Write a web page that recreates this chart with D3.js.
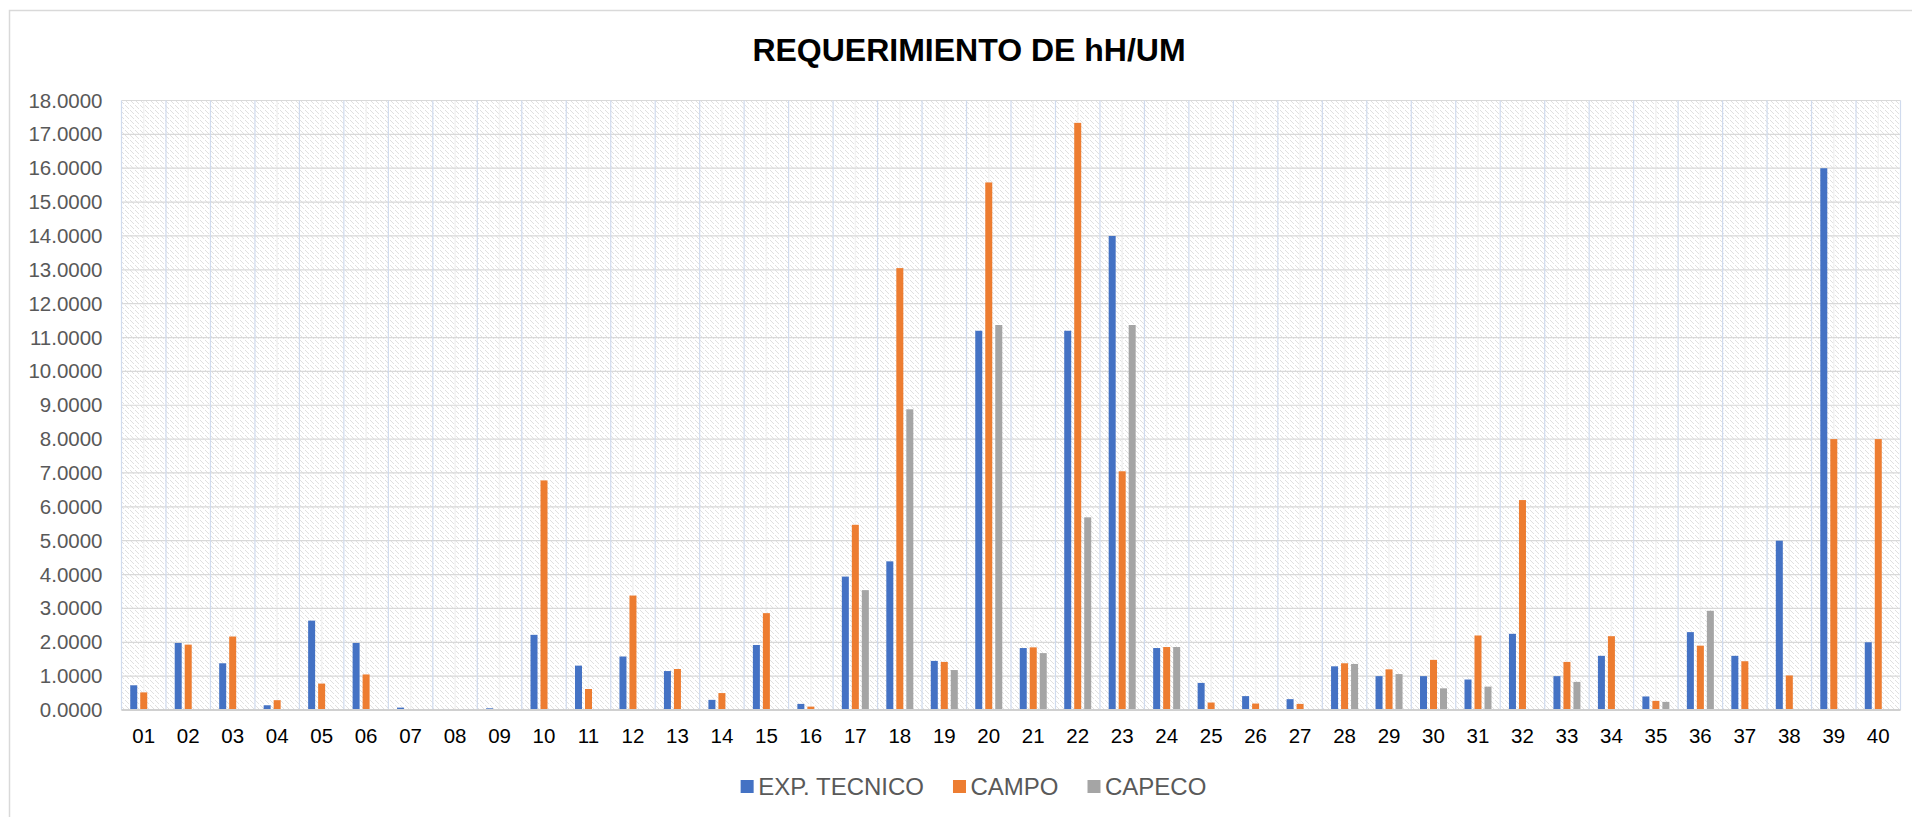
<!DOCTYPE html>
<html>
<head>
<meta charset="utf-8">
<script src="https://cdn.jsdelivr.net/npm/d3@7"></script>
<style>
  body { margin: 0; background: #fff; }
  text { font-family: "Liberation Sans", Arial, sans-serif; }
</style>
</head>
<body>
<script>
// Chart data
var categories = ["01","02","03","04","05","06","07","08","09","10",
                  "11","12","13","14","15","16","17","18","19","20",
                  "21","22","23","24","25","26","27","28","29","30",
                  "31","32","33","34","35","36","37","38","39","40"];

var seriesNames = ["EXP. TECNICO", "CAMPO", "CAPECO"];

var expTecnico = [0.73, 1.98, 1.38, 0.14, 2.64, 1.98, 0.07, 0.03, 0.05, 2.22,
                  1.31, 1.58, 1.15, 0.30, 1.92, 0.18, 3.94, 4.39, 1.45, 11.2,
                  1.83, 11.2, 14.0, 1.83, 0.80, 0.41, 0.32, 1.29, 1.0, 1.0,
                  0.90, 2.25, 1.0, 1.60, 0.40, 2.30, 1.60, 5.0, 16.0, 2.0];

var campo = [0.52, 1.93, 2.17, 0.29, 0.78, 1.05, 0.02, 0.03, 0.01, 6.78,
             0.62, 3.38, 1.21, 0.50, 2.86, 0.10, 5.47, 13.05, 1.42, 15.58,
             1.85, 17.34, 7.05, 1.86, 0.22, 0.19, 0.18, 1.38, 1.20, 1.48,
             2.20, 6.20, 1.42, 2.18, 0.27, 1.90, 1.44, 1.02, 8.0, 8.0];

var capeco = [0, 0, 0, 0, 0, 0, 0, 0, 0, 0,
              0, 0, 0, 0, 0, 0, 3.54, 8.88, 1.18, 11.37,
              1.68, 5.69, 11.37, 1.86, 0, 0, 0, 1.36, 1.06, 0.64,
              0.69, 0, 0.83, 0, 0.24, 2.93, 0, 0, 0, 0];

var yTicks = [0,1,2,3,4,5,6,7,8,9,10,11,12,13,14,15,16,17,18];
var colors = ["#4472C4", "#ED7D31", "#A5A5A5"];

var width = 1912, height = 817;
var plot = { left: 121.5, right: 1900.5, top: 100.5, bottom: 710 };

var svg = d3.select("body").append("svg")
    .attr("width", width)
    .attr("height", height);

// hatch pattern for the plot background
var defs = svg.append("defs");
var pat = defs.append("pattern")
    .attr("id", "hatch")
    .attr("patternUnits", "userSpaceOnUse")
    .attr("width", 10)
    .attr("height", 10);
pat.append("rect").attr("width", 10).attr("height", 10).attr("fill", "#fff");
pat.append("path")
    .attr("d", "M0,0 L4,4 M5,5 L9,9 M5,0 L9,4 M0,5 L4,9")
    .attr("stroke", "#dcdcdc")
    .attr("stroke-width", 0.9);

// chart area border
svg.append("rect")
    .attr("x", 9.5).attr("y", 10.5)
    .attr("width", 1930).attr("height", 830)
    .attr("fill", "#fff")
    .attr("stroke", "#d9d9d9")
    .attr("stroke-width", 1.5);

// title
svg.append("text")
    .attr("x", 969).attr("y", 61)
    .attr("text-anchor", "middle")
    .style("font-size", "32px")
    .style("font-weight", "bold")
    .style("fill", "#000")
    .text("REQUERIMIENTO DE hH/UM");

// scales
var x0 = d3.scaleBand()
    .domain(categories)
    .range([plot.left, plot.right])
    .padding(0);

var groupWidth = 27;
var x1 = d3.scaleBand()
    .domain(seriesNames)
    .range([0, groupWidth])
    .paddingInner(0.3);

var y = d3.scaleLinear()
    .domain([0, 18])
    .range([plot.bottom, plot.top]);

// plot background
svg.append("rect")
    .attr("x", plot.left).attr("y", plot.top)
    .attr("width", plot.right - plot.left)
    .attr("height", plot.bottom - plot.top)
    .attr("fill", "url(#hatch)");

var grid = svg.append("g");

// light lines through the middle of every category
grid.selectAll("line.mid")
    .data(categories)
    .enter().append("line")
    .attr("class", "mid")
    .attr("x1", function (d) { return x0(d) + x0.bandwidth() / 2; })
    .attr("x2", function (d) { return x0(d) + x0.bandwidth() / 2; })
    .attr("y1", plot.top).attr("y2", plot.bottom)
    .attr("stroke", "#f2f2f2")
    .attr("stroke-width", 1.5);

// horizontal gridlines
grid.selectAll("line.h")
    .data(yTicks)
    .enter().append("line")
    .attr("class", "h")
    .attr("x1", plot.left).attr("x2", plot.right)
    .attr("y1", function (d) { return y(d); })
    .attr("y2", function (d) { return y(d); })
    .attr("stroke", "#d9d9d9")
    .attr("stroke-width", 1.2);

// category boundary lines (blue tint)
var edges = categories.map(function (d) { return x0(d); }).concat([plot.right]);
grid.selectAll("line.v")
    .data(edges)
    .enter().append("line")
    .attr("class", "v")
    .attr("x1", function (d) { return d; })
    .attr("x2", function (d) { return d; })
    .attr("y1", plot.top).attr("y2", plot.bottom)
    .attr("stroke", "#d0dbee")
    .attr("stroke-width", 1.2);

// bars
var seriesData = [expTecnico, campo, capeco];
var groups = svg.append("g")
    .selectAll("g")
    .data(categories)
    .enter().append("g")
    .attr("transform", function (d) {
        return "translate(" + (x0(d) + (x0.bandwidth() - groupWidth) / 2) + ",0)";
    });

groups.selectAll("rect")
    .data(function (d, i) {
        return seriesNames.map(function (s, j) {
            return { series: s, idx: j, value: seriesData[j][i] };
        });
    })
    .enter().append("rect")
    .attr("x", function (d) { return x1(d.series); })
    .attr("width", x1.bandwidth())
    .attr("y", function (d) { return y(d.value); })
    .attr("height", function (d) { return plot.bottom - y(d.value); })
    .attr("fill", function (d) { return colors[d.idx]; });

// baseline
svg.append("line")
    .attr("x1", plot.left).attr("x2", plot.right)
    .attr("y1", plot.bottom).attr("y2", plot.bottom)
    .attr("stroke", "#d0d0d0")
    .attr("stroke-width", 2);

// y axis labels
var yAxis = d3.axisLeft(y)
    .tickValues(yTicks)
    .tickFormat(d3.format(".4f"))
    .tickSize(0)
    .tickPadding(19);
var gy = svg.append("g")
    .attr("transform", "translate(" + plot.left + ",0)")
    .call(yAxis);
gy.select(".domain").remove();
gy.selectAll("text")
    .style("font-size", "20.5px")
    .style("font-family", "'Liberation Sans', Arial, sans-serif")
    .attr("fill", "#595959");

// x axis labels
var xAxis = d3.axisBottom(x0).tickSize(0).tickPadding(18);
var gx = svg.append("g")
    .attr("transform", "translate(0," + plot.bottom + ")")
    .call(xAxis);
gx.select(".domain").remove();
gx.selectAll("text")
    .style("font-size", "20.5px")
    .style("font-family", "'Liberation Sans', Arial, sans-serif")
    .attr("fill", "#000");

// legend
var legend = svg.append("g");
var items = legend.selectAll("g")
    .data(seriesNames)
    .enter().append("g");
items.append("rect")
    .attr("width", 13).attr("height", 13)
    .attr("y", 780)
    .attr("fill", function (d, i) { return colors[i]; });
items.append("text")
    .attr("x", 17.5)
    .attr("y", 794.5)
    .style("font-size", "24px")
    .style("fill", "#595959")
    .text(function (d) { return d; });

var pos = 0, offsets = [];
items.each(function () {
    offsets.push(pos);
    pos += 17.5 + this.querySelector("text").getComputedTextLength() + 29;
});
var totalW = pos - 29;
var startX = 973.5 - totalW / 2;
items.attr("transform", function (d, i) { return "translate(" + (startX + offsets[i]) + ",0)"; });
</script>
</body>
</html>
